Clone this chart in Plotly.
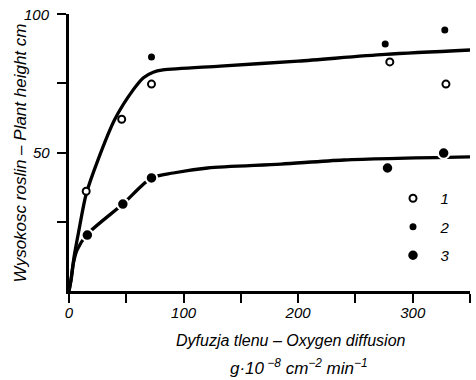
import plotly.graph_objects as go

# ---- data ----
x_series1 = [15, 46, 72, 280, 329]          # open circles (1)
y_series1 = [36, 62, 74.7, 82.7, 74.7]
x_series2 = [72, 276, 328]                  # small filled dots (2)
y_series2 = [84.5, 89.2, 94.2]
x_series3 = [16, 47, 72, 278, 327]          # large filled dots (3)
y_series3 = [20.2, 31.4, 40.8, 44.4, 49.8]

upper_curve_x = [0, 2, 4.4, 8.7, 15, 25, 40, 56, 65, 73.5, 82, 132, 200, 276, 350]
upper_curve_y = [0, 4.5, 12.3, 22, 35, 47, 62, 72.6, 77, 79, 79.8, 81.2, 83, 85.4, 87]
lower_curve_x = [0, 1.7, 3.8, 7, 16, 47, 72, 91, 121, 185, 240, 350]
lower_curve_y = [0, 4, 10, 14.8, 20.5, 31.4, 40.8, 42.6, 44.4, 45.8, 47.3, 48.4]

x_tick_vals = [0, 100, 200, 300]
x_tick_text = ["0", "100", "200", "300"]
x_minor_vals = [50, 150, 250, 350]
y_tick_vals = [50, 100]
y_tick_text = ["50", "100"]
y_minor_vals = [25, 75]

FONT = "Liberation Sans, Arial, DejaVu Sans, sans-serif"
INK = "#000000"

fig = go.Figure()

fig.add_trace(go.Scatter(x=upper_curve_x, y=upper_curve_y, mode="lines",
                         line=dict(color=INK, width=3.3, shape="spline", smoothing=0.8),
                         showlegend=False, hoverinfo="skip"))
fig.add_trace(go.Scatter(x=lower_curve_x, y=lower_curve_y, mode="lines",
                         line=dict(color=INK, width=3.3, shape="spline", smoothing=0.8),
                         showlegend=False, hoverinfo="skip"))

fig.add_trace(go.Scatter(x=x_series1, y=y_series1, mode="markers", name="\u20021",
                         legendgroup="a",
                         marker=dict(symbol="circle", size=7, color="white",
                                     line=dict(color=INK, width=2))))
fig.add_trace(go.Scatter(x=x_series2, y=y_series2, mode="markers", name="\u20022",
                         legendgroup="b",
                         marker=dict(symbol="circle", size=7, color=INK,
                                     line=dict(width=0))))
fig.add_trace(go.Scatter(x=x_series3, y=y_series3, mode="markers", name="\u20023",
                         legendgroup="c",
                         marker=dict(symbol="circle", size=11.5, color=INK,
                                     line=dict(color="white", width=2))))

axis_common = dict(showgrid=False, zeroline=False, showline=True, linecolor=INK,
                   linewidth=2.5, ticks="outside", ticklen=9, tickwidth=2,
                   tickcolor=INK, automargin=False,
                   tickfont=dict(family=FONT, size=15, color=INK, style="italic"))

fig.update_xaxes(range=[0, 350], tickmode="array", tickvals=x_tick_vals,
                 ticktext=x_tick_text, ticklabelstandoff=-3,
                 minor=dict(tickmode="array", tickvals=x_minor_vals, ticks="outside",
                            ticklen=9, tickwidth=2, tickcolor=INK, showgrid=False),
                 **axis_common)
fig.update_yaxes(range=[0, 100], tickmode="array", tickvals=y_tick_vals,
                 ticktext=y_tick_text, showticklabels=False,
                 minor=dict(tickmode="array", tickvals=y_minor_vals, ticks="outside",
                            ticklen=9, tickwidth=2, tickcolor=INK, showgrid=False),
                 **axis_common)

# y tick labels placed on the y scale, right-aligned a little further from the ticks
for val, lab in zip(y_tick_vals, y_tick_text):
    fig.add_annotation(text=lab, x=0, xref="paper", y=val, yref="y",
                       xanchor="right", yanchor="middle", xshift=-17, showarrow=False,
                       font=dict(family=FONT, size=15, color=INK, style="italic"))

fig.add_annotation(text="Wysokosc roslin – Plant height cm", xref="paper", yref="paper",
                   x=-0.122, y=0.497, textangle=-90, showarrow=False,
                   xanchor="center", yanchor="middle",
                   font=dict(family=FONT, size=17, color=INK, style="italic"))
fig.add_annotation(text="Dyfuzja tlenu – Oxygen diffusion", xref="paper", yref="paper",
                   x=0.553, y=-0.18, showarrow=False, xanchor="center", yanchor="middle",
                   font=dict(family=FONT, size=16, color=INK, style="italic"))
fig.add_annotation(text="g·10<sup> −8</sup> cm<sup>−2</sup> min<sup>−1</sup>",
                   xref="paper", yref="paper",
                   x=0.573, y=-0.273, showarrow=False, xanchor="center", yanchor="middle",
                   font=dict(family=FONT, size=17, color=INK, style="italic"))

fig.update_layout(
    width=476, height=380,
    margin=dict(l=69, r=6, t=14, b=89, autoexpand=False),
    paper_bgcolor="white", plot_bgcolor="white",
    legend=dict(xref="paper", yref="paper", x=(393 - 69) / 401, y=(291 - 182) / 277,
                xanchor="left", yanchor="top", traceorder="grouped",
                tracegroupgap=6, bgcolor="rgba(0,0,0,0)",
                font=dict(family=FONT, size=15, color=INK, style="italic")),
    showlegend=True,
)

fig.write_html("out.html")
